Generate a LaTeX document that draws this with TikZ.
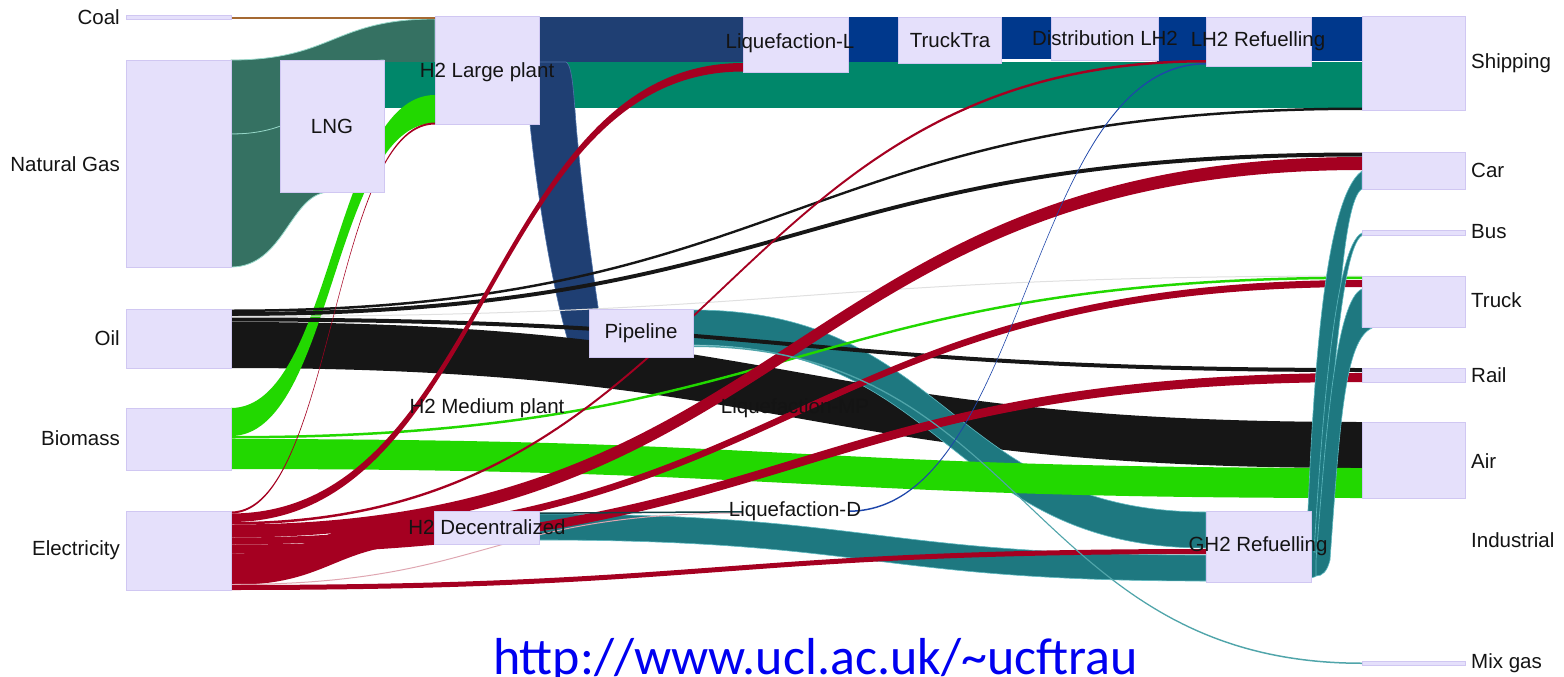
\documentclass[tikz,border=0pt]{standalone}
\usepackage{fontspec}
\setmainfont{Liberation Sans}
\newfontfamily\urlfont{Carlito}
\definecolor{ngc}{RGB}{53,113,98}
\definecolor{ngedge}{RGB}{150,215,200}
\definecolor{lngc}{RGB}{0,135,106}
\definecolor{dblc}{RGB}{31,63,115}
\definecolor{dbledge}{RGB}{80,115,170}
\definecolor{navyc}{RGB}{0,56,140}
\definecolor{redc}{RGB}{165,0,33}
\definecolor{grc}{RGB}{34,216,0}
\definecolor{blkc}{RGB}{22,22,22}
\definecolor{tealc}{RGB}{30,120,128}
\definecolor{tealedge}{RGB}{95,185,192}
\definecolor{mixc}{RGB}{80,165,170}
\definecolor{coalc}{RGB}{165,105,50}
\definecolor{lbluec}{RGB}{30,70,170}
\definecolor{nodef}{RGB}{229,224,251}
\definecolor{nodeb}{RGB}{208,199,242}
\definecolor{urlc}{RGB}{0,0,240}
\newcommand{\lnk}[7]{\path[#1] (#2,#3) .. controls ({(#2+#5)/2},#3) and ({(#2+#5)/2},#6) .. (#5,#6) -- (#5,#7) .. controls ({(#2+#5)/2},#7) and ({(#2+#5)/2},#4) .. (#2,#4) -- cycle;}
\newcommand{\bx}[5]{\node[nodebox,anchor=north west,minimum width=#4pt,minimum height=#5pt] (#1) at (#2,#3) {};}
\begin{document}
\begin{tikzpicture}[x=1pt,y=-1pt,
  nodebox/.style={draw=nodeb,fill=nodef,line width=0.8pt,inner sep=0pt,outer sep=0pt},
  lab/.style={font=\fontsize{20.5}{23}\selectfont,text=black!92,inner sep=0pt},
  edgeng/.style={fill=ngc,draw=ngedge,line width=0.8pt},
  red/.style={fill=redc},
  grn/.style={fill=grc},
  blk/.style={fill=blkc},
  tl/.style={fill=tealc,draw=tealedge,line width=0.6pt}]
\fill[white] (0,0) rectangle (1564,677);
\useasboundingbox (0,0) rectangle (1564,677);

% Natural gas flows
\lnk{edgeng}{231}{60}{134}{435}{19}{95}
\path[edgeng] (231,134) .. controls (330,134) and (330,60) .. (384,60) -- (384,192) -- (330,192) .. controls (290,192) and (285,267) .. (231,267) -- cycle;
% coal
\fill[coalc] (231,17) rectangle (435,19.5);
% LNG -> Shipping
\fill[lngc] (384,62) rectangle (1362,107.5);
% H2 large -> Liquefaction-L and LH2 chain
\fill[dblc] (539,17) rectangle (743,62);
\fill[navyc] (848,17) rectangle (898,62);
\fill[navyc] (1001,17) rectangle (1052,59);
\fill[navyc] (1157,17) rectangle (1206,62);
\fill[navyc] (1311,17) rectangle (1362,61);
% H2 Large plant -> Pipeline
\path[fill=dblc,draw=dbledge,line width=0.6pt] (530,62) -- (566,62) .. controls (574,66) and (574,110) .. (578,145) .. controls (584,210) and (594,280) .. (600,320) -- (600,341) -- (568,341) .. controls (556,300) and (540,220) .. (530,124) -- cycle;
% Oil -> Air
\lnk{blk}{231}{322}{368}{1362}{422}{468}
% Pipeline -> GH2, H2 Dec -> GH2
\lnk{tl}{693}{310}{345}{1206}{512}{548}
\lnk{tl}{539}{514}{540}{1206}{555}{581}
% Biomass
\lnk{grn}{231}{439}{469}{1362}{468}{498}
\lnk{grn}{231}{408}{436}{435}{95}{123}
% Oil thin lines
\lnk{blk}{231}{309.5}{312}{1362}{107.5}{110}
\lnk{blk}{231}{312}{316}{1362}{152.5}{156.5}
\lnk{fill=black!12}{231}{316}{317}{1362}{275.5}{276.5}
\lnk{blk}{231}{317.5}{321.5}{1362}{368}{372}
% Biomass -> Truck
\lnk{grn}{231}{436}{438.5}{1362}{276.5}{279}
% Electricity
\lnk{red}{231}{511.5}{513.5}{435}{122.5}{124.5}
\lnk{red}{231}{513.5}{522}{743}{63}{71.5}
\lnk{red}{231}{522}{524.5}{1206}{60}{62.5}
\lnk{red}{231}{524.5}{537.5}{1362}{157}{170}
\lnk{red}{231}{537.5}{544.5}{1362}{280}{287}
\lnk{red}{231}{544.5}{553.5}{1362}{373}{382}
\lnk{red}{231}{553.5}{585}{435}{511.5}{543}
\lnk{fill=redc!35}{231}{584}{585}{743}{512.5}{513.5}
\lnk{red}{231}{585}{590}{1206}{549}{554}
% thin lines
\lnk{fill=mixc}{693}{345.5}{347}{1362}{662.5}{664}
\lnk{fill=black!45!tealc}{539}{512.5}{514}{743}{511}{512.5}
\lnk{fill=lbluec}{848}{510.5}{512}{1206}{63}{64.5}
% GH2 refuelling fan
\path[tl] (1306,560) .. controls (1312,400) and (1322,200) .. (1362,171) -- (1362,189) .. controls (1342,200) and (1334,350) .. (1326,555) .. controls (1322,572) and (1316,578) .. (1311,578) -- cycle;
\path[tl] (1314,552) .. controls (1322,420) and (1335,245) .. (1362,233) -- (1362,235.5) .. controls (1340,248) and (1330,420) .. (1321,552) -- cycle;
\path[tl] (1316,560) .. controls (1326,430) and (1336,300) .. (1362,289) -- (1362,327) -- (1372,328) .. controls (1345,340) and (1340,420) .. (1330,560) .. controls (1327,572) and (1322,576) .. (1316,576) -- cycle;

% Nodes
\bx{coal}{126}{15.5}{105}{4}
\bx{ng}{126}{60}{105}{207}
\bx{oil}{126}{309}{105}{59}
\bx{bio}{126}{408}{105}{62}
\bx{elec}{126}{511}{105}{79}
\bx{lng}{280}{60}{104}{132}
\bx{h2l}{435}{16}{104}{108}
\bx{h2d}{434}{511}{105}{33}
\bx{pipe}{589}{309}{104}{48}
\bx{liql}{743}{17}{105}{55}
\bx{truckt}{898}{17}{103}{46}
\bx{dist}{1051}{17}{107}{43}
\bx{lh2r}{1206}{17}{105}{49}
\bx{gh2r}{1206}{511}{105}{71}
\bx{ship}{1362}{16}{103}{94}
\bx{car}{1362}{152}{103}{37}
\bx{bus}{1362}{230.5}{103}{5}
\bx{truck}{1362}{276}{103}{51}
\bx{rail}{1362}{368}{103}{14}
\bx{air}{1362}{422}{103}{76}
\bx{mix}{1362}{661.5}{103}{4}

% Labels
\node[lab,anchor=east] (coall) at (120,17) {Coal};
\node[lab,anchor=east] (ngl) at (120,164) {Natural Gas};
\node[lab,anchor=east] (oill) at (120,338) {Oil};
\node[lab,anchor=east] (biol) at (120,438) {Biomass};
\node[lab,anchor=east] (elecl) at (120,550) {Electricity};
\node[lab] (lngl) at (332,126) {LNG};
\node[lab] (h2ll) at (487,72) {H2 Large plant};
\node[lab] (h2ml) at (487,408) {H2 Medium plant};
\node[lab] (h2dl) at (487,527) {H2 Decentralized};
\node[lab] (pipel) at (641,333) {Pipeline};
\node[lab] (liqll) at (790,43) {Liquefaction-L};
\node[lab] (liqmpl) at (795,408) {Liquefaction-MP};
\node[lab] (liqdl) at (795,511) {Liquefaction-D};
\node[lab] (trucktl) at (950,40) {TruckTra};
\node[lab] (distl) at (1105,38) {Distribution LH2};
\node[lab] (lh2rl) at (1258,41) {LH2 Refuelling};
\node[lab] (gh2rl) at (1258,546) {GH2 Refuelling};
\node[lab,anchor=west] (shipl) at (1471,63) {Shipping};
\node[lab,anchor=west] (carl) at (1471,170) {Car};
\node[lab,anchor=west] (busl) at (1471,232) {Bus};
\node[lab,anchor=west] (truckl) at (1471,300) {Truck};
\node[lab,anchor=west] (raill) at (1471,375) {Rail};
\node[lab,anchor=west] (airl) at (1471,461) {Air};
\node[lab,anchor=west] (indl) at (1471,540) {Industrial};
\node[lab,anchor=west] (mixl) at (1471,663) {Mix gas};
\node[font=\urlfont\fontsize{52}{60}\selectfont,text=urlc,anchor=base,inner sep=0pt] (url) at (815.5,674) {http://www.ucl.ac.uk/\textasciitilde ucftrau};
\end{tikzpicture}
\end{document}
